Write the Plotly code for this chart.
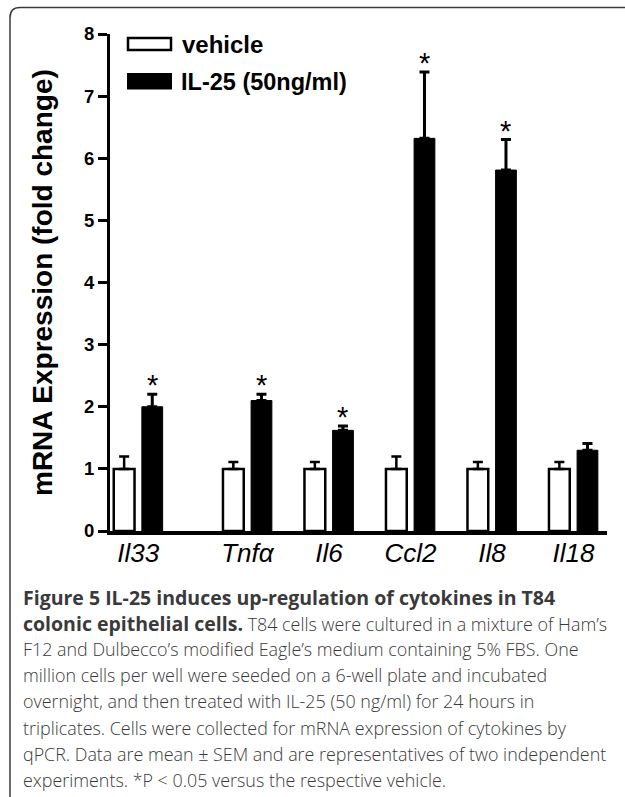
import plotly.graph_objects as go

# ---------------- data ----------------
genes = ["Il33", "Tnfα", "Il6", "Ccl2", "Il8", "Il18"]
vehicle_mean = [1.0, 1.0, 1.0, 1.0, 1.0, 1.0]
vehicle_sem = [0.20, 0.11, 0.11, 0.20, 0.11, 0.11]
il25_mean = [2.0, 2.10, 1.62, 6.32, 5.81, 1.30]
il25_sem = [0.20, 0.10, 0.07, 1.07, 0.49, 0.11]
significant = [True, True, True, True, True, False]
y_tick_values = [0, 1, 2, 3, 4, 5, 6, 7, 8]
series_names = ["vehicle", "IL-25 (50ng/ml)"]

BOLD_OPEN = "<span style='font-size:19.5px'><b>"
BOLD_CLOSE = "</b></span>"
caption_lines = [
    BOLD_OPEN + "Figure 5 IL-25 induces up-regulation of cytokines in T84" + BOLD_CLOSE,
    BOLD_OPEN + "colonic epithelial cells." + BOLD_CLOSE + " T84 cells were cultured in a mixture of Ham’s",
    "F12 and Dulbecco’s modified Eagle’s medium containing 5% FBS. One",
    "million cells per well were seeded on a 6-well plate and incubated",
    "overnight, and then treated with IL-25 (50 ng/ml) for 24 hours in",
    "triplicates. Cells were collected for mRNA expression of cytokines by",
    "qPCR. Data are mean ± SEM and are representatives of two independent",
    "experiments. *P < 0.05 versus the respective vehicle.",
]

# ---------------- layout constants ----------------
W, H = 625, 797
ML, MR, MT, MB = 110, 18, 34, 266
PW, PH = W - ML - MR, H - MT - MB
GROUP_X = [0, 1.34, 2.34, 3.34, 4.34, 5.34]
BAR_W = 0.255
VEH_OFF = -0.30
IL_OFF = 0.045
FONT = "Liberation Sans, Arial, sans-serif"


def px(xp):
    return (xp - ML) / PW


def py(yp):
    return (H - MB - yp) / PH


fig = go.Figure()

fig.add_trace(go.Bar(
    x=GROUP_X, y=vehicle_mean, name=series_names[0],
    width=BAR_W, offset=VEH_OFF,
    marker=dict(color="white", line=dict(color="black", width=2.5)),
    error_y=dict(type="data", array=vehicle_sem, arrayminus=[0] * len(genes),
                 symmetric=False, color="black", thickness=2.5, width=5),
    showlegend=False,
))
fig.add_trace(go.Bar(
    x=GROUP_X, y=il25_mean, name=series_names[1],
    width=BAR_W, offset=IL_OFF,
    marker=dict(color="black", line=dict(color="black", width=1)),
    error_y=dict(type="data", array=il25_sem, arrayminus=[0] * len(genes),
                 symmetric=False, color="black", thickness=3, width=5),
    showlegend=False,
))

# significance asterisks
for gx, m, s, sig in zip(GROUP_X, il25_mean, il25_sem, significant):
    if sig:
        fig.add_annotation(x=gx + IL_OFF + BAR_W / 2, y=m + s, text="*",
                           showarrow=False, xanchor="center", yanchor="bottom",
                           yshift=-9, font=dict(family=FONT, size=29, color="black"))

# legend (drawn manually to get wide swatches)
fig.add_shape(type="rect", xref="paper", yref="paper",
              x0=px(128), x1=px(171), y0=py(50), y1=py(38),
              fillcolor="white", line=dict(color="black", width=2.5))
fig.add_shape(type="rect", xref="paper", yref="paper",
              x0=px(127), x1=px(172), y0=py(89.5), y1=py(73),
              fillcolor="black", line=dict(color="black", width=0))
fig.add_annotation(xref="paper", yref="paper", x=px(180), y=py(44), text=series_names[0],
                   showarrow=False, xanchor="left", yanchor="middle",
                   font=dict(family=FONT, size=24, color="black", weight="bold"))
fig.add_annotation(xref="paper", yref="paper", x=px(179), y=py(81.5), text=series_names[1],
                   showarrow=False, xanchor="left", yanchor="middle",
                   font=dict(family=FONT, size=23.5, color="black", weight="bold"))

# y-axis title
fig.add_annotation(xref="paper", yref="paper", x=px(42), y=py(283),
                   text="mRNA Expression (fold change)", textangle=-90,
                   showarrow=False, xanchor="center", yanchor="middle",
                   font=dict(family=FONT, size=28, color="black", weight="bold"))

# caption
for i, line in enumerate(caption_lines):
    fig.add_annotation(xref="paper", yref="paper", x=px(21), y=py(597 + 26.1 * i),
                       text=line, showarrow=False, xanchor="left", yanchor="middle",
                       font=dict(family="Open Sans, Noto Sans, sans-serif", size=17.9,
                                 color="#3a3a3a", weight=300))

# frame border (rounded top-left corner, open to the right/bottom)
x0, yt, r = px(10), py(7.5), 10 / PW
path = (f"M {x0},{py(820)} L {x0},{yt - r} Q {x0},{yt} {x0 + r},{yt} "
        f"L {px(660)},{yt}")
fig.add_shape(type="path", xref="paper", yref="paper", path=path,
              line=dict(color="#3a3a3a", width=1.5))

fig.update_layout(
    width=W, height=H,
    margin=dict(l=ML, r=MR, t=MT, b=MB, pad=0),
    paper_bgcolor="white", plot_bgcolor="white",
    barmode="overlay",
    xaxis=dict(range=[-0.346, 5.752], tickvals=GROUP_X, ticktext=genes,
               showgrid=False, zeroline=False, showline=True, linecolor="black",
               linewidth=3.5, ticks="", ticklabelstandoff=-4,
               tickfont=dict(family=FONT, size=26, color="black", style="italic")),
    yaxis=dict(range=[0, 8], tickvals=y_tick_values, showgrid=False, zeroline=False,
               showline=True, linecolor="black", linewidth=3, ticks="outside",
               ticklen=9, tickwidth=3, tickcolor="black",
               tickfont=dict(family=FONT, size=18.5, color="black", weight="bold")),
)

fig.write_html("out.html", config={"displayModeBar": False},
               post_script="document.body.style.margin='0';document.body.style.overflow='hidden';")
